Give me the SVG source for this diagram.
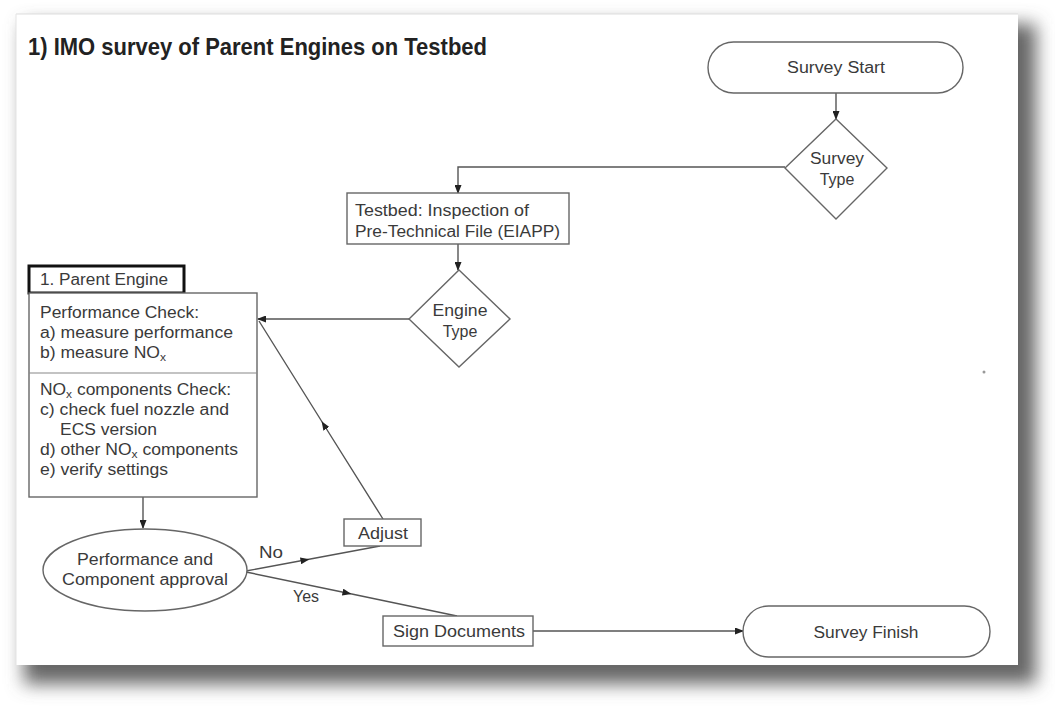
<svg xmlns="http://www.w3.org/2000/svg" width="1055" height="711" viewBox="0 0 1055 711">
<defs>
<marker id="arr" markerUnits="userSpaceOnUse" markerWidth="9" markerHeight="7" refX="8" refY="3.5" orient="auto"><path d="M0,0 L9,3.5 L0,7 z" fill="#222"/></marker>
<marker id="mid" markerUnits="userSpaceOnUse" markerWidth="9" markerHeight="7" refX="4.5" refY="3.5" orient="auto"><path d="M0,0 L9,3.5 L0,7 z" fill="#222"/></marker>
<filter id="sh" x="-10%" y="-10%" width="120%" height="125%"><feGaussianBlur stdDeviation="9"/></filter>
<style>
.t{font-family:"Liberation Sans",Arial,sans-serif;font-size:16px;fill:#3a3a3a}
.c{text-anchor:middle}
.box{fill:#fff;stroke:#666;stroke-width:1.4}
.ln{fill:none;stroke:#555;stroke-width:1.4}
</style>
</defs>
<rect width="1055" height="711" fill="#fff"/>
<rect x="24" y="24" width="1012" height="660" fill="#666" filter="url(#sh)"/>
<rect x="16" y="14" width="1002" height="651" fill="#fff"/>
<line x1="16" y1="14" x2="1018" y2="14" stroke="#ddd" stroke-width="1"/>
<line x1="16" y1="14" x2="16" y2="665" stroke="#e4e4e4" stroke-width="1"/>
<text x="28" y="55" font-family="'Liberation Sans',Arial,sans-serif" font-weight="bold" font-size="24" fill="#222" textLength="459" lengthAdjust="spacingAndGlyphs">1) IMO survey of Parent Engines on Testbed</text>
<circle cx="984" cy="372" r="1.5" fill="#999"/>

<g id="connectors">
<path class="ln" d="M836,93 L836,119" marker-end="url(#arr)"/>
<path class="ln" d="M785,167 L458,167 L458,193" marker-end="url(#arr)"/>
<path class="ln" d="M458,244 L458,270" marker-end="url(#arr)"/>
<path class="ln" d="M409,319 L258,319" marker-end="url(#arr)"/>
<path class="ln" d="M143,497 L143,528" marker-end="url(#arr)"/>
<path class="ln" d="M246,571 L305,560 L380,546" marker-mid="url(#mid)"/>
<path class="ln" d="M246,572 L347,593 L457,616" marker-mid="url(#mid)"/>
<path class="ln" d="M383,519 L324,425 L259,321" marker-mid="url(#mid)"/>
<path class="ln" d="M533,631 L743,631" marker-end="url(#arr)"/>
<text class="t" x="259" y="558" textLength="24" lengthAdjust="spacingAndGlyphs">No</text>
<text class="t" x="293" y="602" textLength="26" lengthAdjust="spacingAndGlyphs">Yes</text>
</g>

<g id="survey-start">
<rect class="box" x="708" y="42" width="255" height="51" rx="25.5"/>
<text class="t c" x="836" y="73" textLength="98" lengthAdjust="spacingAndGlyphs">Survey Start</text>
</g>
<g id="survey-type">
<polygon class="box" points="836,119 887,168 836,219 785,168"/>
<text class="t c" x="837" y="164" textLength="54" lengthAdjust="spacingAndGlyphs">Survey</text>
<text class="t c" x="837" y="185">Type</text>
</g>
<g id="testbed">
<rect class="box" x="347" y="193" width="222" height="51"/>
<text class="t" x="355" y="216" textLength="174" lengthAdjust="spacingAndGlyphs">Testbed: Inspection of</text>
<text class="t" x="355" y="237" textLength="205" lengthAdjust="spacingAndGlyphs">Pre-Technical File (EIAPP)</text>
</g>
<g id="engine-type">
<polygon class="box" points="459,270 510,319 459,367 409,319"/>
<text class="t c" x="460" y="316" textLength="55" lengthAdjust="spacingAndGlyphs">Engine</text>
<text class="t c" x="460" y="337">Type</text>
</g>
<g id="parent-engine">
<rect x="29" y="266" width="155" height="27" fill="#fff" stroke="#111" stroke-width="3"/>
<text class="t" x="40" y="285" textLength="128" lengthAdjust="spacingAndGlyphs">1. Parent Engine</text>
<rect class="box" x="29" y="293" width="228" height="204"/>
<line x1="29" y1="373" x2="257" y2="373" stroke="#888" stroke-width="1.2"/>
<text class="t" x="40" y="318" textLength="159" lengthAdjust="spacingAndGlyphs">Performance Check:</text>
<text class="t" x="40" y="338" textLength="193" lengthAdjust="spacingAndGlyphs">a) measure performance</text>
<text class="t" x="40" y="358" textLength="126" lengthAdjust="spacingAndGlyphs">b) measure NO<tspan font-size="11" dy="3">x</tspan></text>
<text class="t" x="40" y="395" textLength="191" lengthAdjust="spacingAndGlyphs">NO<tspan font-size="11" dy="3">x</tspan><tspan dy="-3"> components Check:</tspan></text>
<text class="t" x="40" y="415" textLength="189" lengthAdjust="spacingAndGlyphs">c) check fuel nozzle and</text>
<text class="t" x="60" y="435" textLength="97" lengthAdjust="spacingAndGlyphs">ECS version</text>
<text class="t" x="40" y="455" textLength="198" lengthAdjust="spacingAndGlyphs">d) other NO<tspan font-size="11" dy="3">x</tspan><tspan dy="-3"> components</tspan></text>
<text class="t" x="40" y="475" textLength="128" lengthAdjust="spacingAndGlyphs">e) verify settings</text>
</g>
<g id="approval">
<ellipse class="box" cx="145" cy="570" rx="102" ry="41"/>
<text class="t c" x="145" y="565" textLength="136" lengthAdjust="spacingAndGlyphs">Performance and</text>
<text class="t c" x="145" y="585" textLength="166" lengthAdjust="spacingAndGlyphs">Component approval</text>
</g>
<g id="adjust">
<rect class="box" x="344" y="519" width="77" height="27"/>
<text class="t c" x="383" y="539" textLength="50" lengthAdjust="spacingAndGlyphs">Adjust</text>
</g>
<g id="sign-documents">
<rect class="box" x="383" y="616" width="150" height="30"/>
<text class="t c" x="459" y="637" textLength="132" lengthAdjust="spacingAndGlyphs">Sign Documents</text>
</g>
<g id="survey-finish">
<rect class="box" x="743" y="606" width="247" height="51" rx="25.5"/>
<text class="t c" x="866" y="638" textLength="105" lengthAdjust="spacingAndGlyphs">Survey Finish</text>
</g>
</svg>
